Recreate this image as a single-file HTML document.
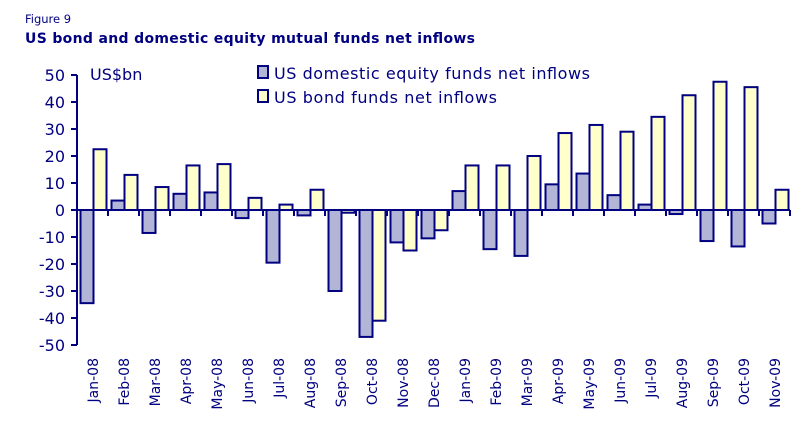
<!DOCTYPE html>
<html><head><meta charset="utf-8"><style>
body{margin:0;background:#fff;width:808px;height:428px;overflow:hidden;font-family:"DejaVu Sans","Liberation Sans",sans-serif;color:#000080}
</style></head><body>
<svg id="chart" width="808" height="428" xmlns="http://www.w3.org/2000/svg" font-family="DejaVu Sans, Liberation Sans, sans-serif">
<text x="25" y="23" font-size="11.5" fill="#000080">Figure 9</text>
<text x="25" y="43" font-size="14" font-weight="bold" fill="#000080" textLength="450">US bond and domestic equity mutual funds net inflows</text>
<text x="90" y="80" font-size="16" fill="#000080">US$bn</text>
<rect x="258" y="66" width="10" height="12" fill="#b3b5d6" stroke="#000080" stroke-width="2"/>
<text x="274" y="79" font-size="16" fill="#000080" textLength="316">US domestic equity funds net inflows</text>
<rect x="258" y="90" width="10" height="12" fill="#ffffcc" stroke="#000080" stroke-width="2"/>
<text x="274" y="103" font-size="16" fill="#000080" textLength="223">US bond funds net inflows</text>
<g id="marks"></g>
</svg>
<script>
const categories=["Jan-08","Feb-08","Mar-08","Apr-08","May-08","Jun-08","Jul-08","Aug-08","Sep-08","Oct-08","Nov-08","Dec-08","Jan-09","Feb-09","Mar-09","Apr-09","May-09","Jun-09","Jul-09","Aug-09","Sep-09","Oct-09","Nov-09"];
const equityValues=[-34.5,3.5,-8.5,6,6.5,-3,-19.5,-2,-30,-47,-12,-10.5,7,-14.5,-17,9.5,13.5,5.5,2,-1.5,-11.5,-13.5,-5];
const bondValues=[22.5,13,8.5,16.5,17,4.5,2,7.5,-1,-41,-15,-7.5,16.5,16.5,20,28.5,31.5,29,34.5,42.5,47.5,45.5,7.5];
const yTicks=[50,40,30,20,10,0,-10,-20,-30,-40,-50];
const NS="http://www.w3.org/2000/svg";
const g=document.getElementById('marks');
const x0=77,step=31,yTop=75,yBot=345,vMax=50,vMin=-50;
function y(v){return yTop+(vMax-v)/(vMax-vMin)*(yBot-yTop);}
function xc(i){return x0+i*step;}
function mk(t,a){const e=document.createElementNS(NS,t);for(const k in a)e.setAttribute(k,a[k]);g.appendChild(e);return e;}
function bar(v,x,fill,name){
  const top=Math.min(y(v),y(0)),h=Math.abs(y(v)-y(0));
  const r=mk('rect',{x:x,y:top,width:13,height:Math.max(h,1),fill:fill,stroke:'#000080','stroke-width':2});
  
  
}
categories.forEach((c,i)=>{
  bar(equityValues[i],xc(i)+3.5,'#b3b5d6','bar-equity-'+c.toLowerCase());
  bar(bondValues[i],xc(i)+16.5,'#ffffcc','bar-bond-'+c.toLowerCase());
  const t=mk('text',{transform:`translate(${xc(i)+21},358) rotate(-90)`,'text-anchor':'end','font-size':14,fill:'#000080'});
  t.textContent=c;
  
  
  const tk=mk('line',{x1:xc(i+1),x2:xc(i+1),y1:y(0),y2:y(0)+6,stroke:'#000080','stroke-width':2});
  
  
});
yTicks.forEach(v=>{
  const l=mk('line',{x1:x0-6,x2:x0,y1:y(v),y2:y(v),stroke:'#000080','stroke-width':2});
  
  
  const t=mk('text',{x:x0-12,y:y(v)+6,'text-anchor':'end','font-size':16,fill:'#000080'});
  t.textContent=v;
  
  
});
const ya=mk('line',{x1:x0,x2:x0,y1:yTop,y2:yBot,stroke:'#000080','stroke-width':2});


const xa=mk('line',{x1:x0,x2:x0+categories.length*step,y1:y(0),y2:y(0),stroke:'#000080','stroke-width':2});


</script>
</body></html>
